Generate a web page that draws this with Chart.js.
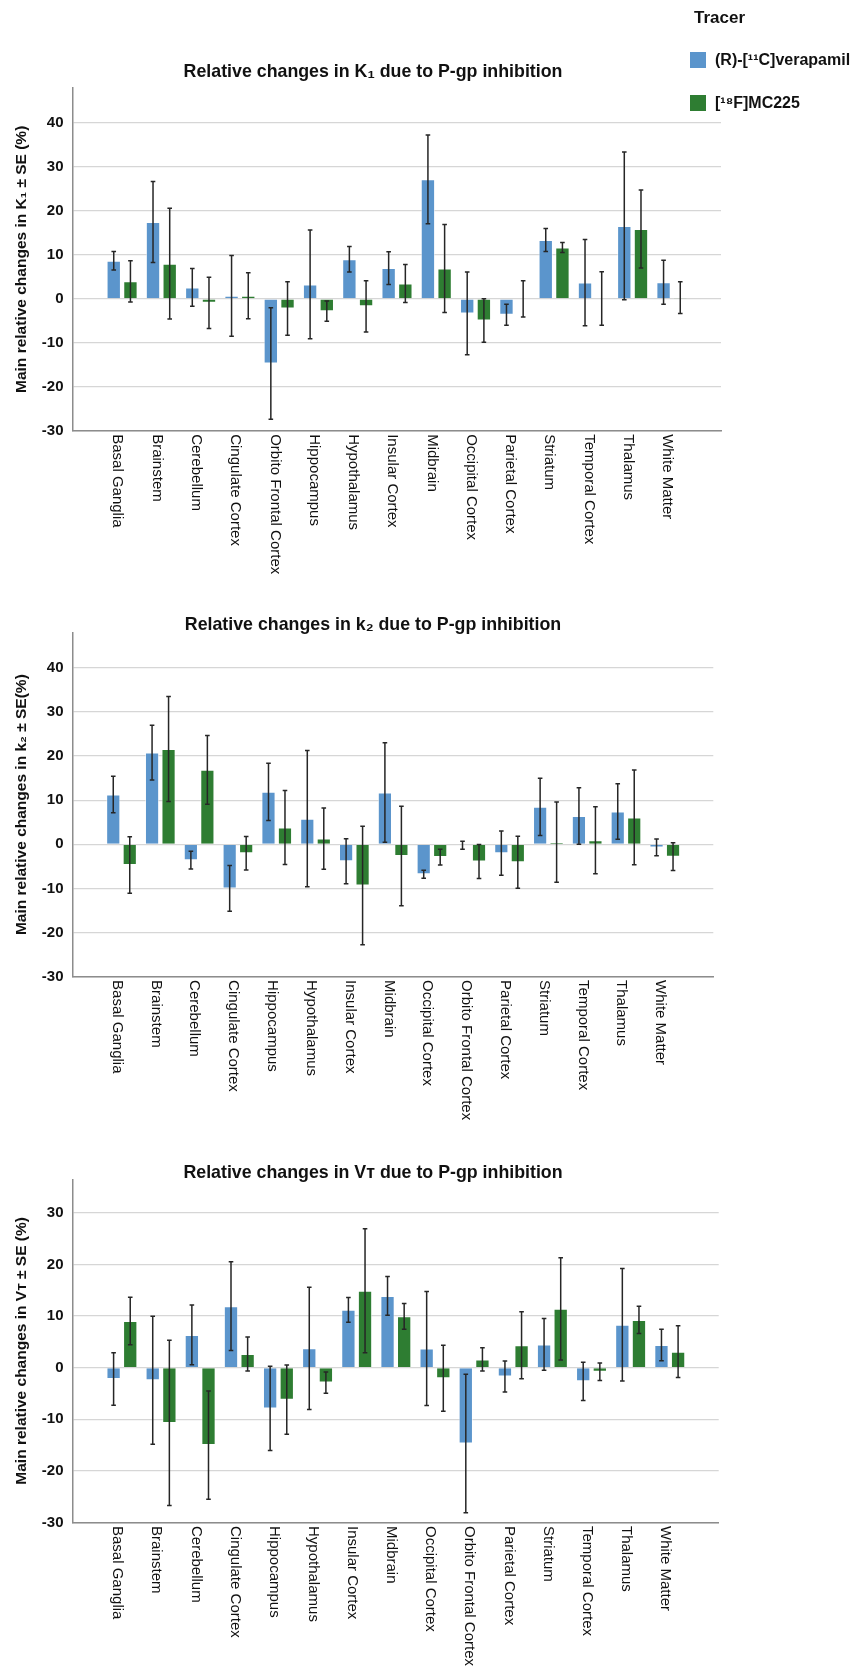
<!DOCTYPE html>
<html>
<head>
<meta charset="utf-8">
<title>Relative changes due to P-gp inhibition</title>
<script src="https://cdn.jsdelivr.net/npm/chart.js@4.4.1/dist/chart.umd.min.js"></script>
<style>
  body { margin: 0; background: #fff; }
  #page { position: relative; width: 862px; height: 1671px; overflow: hidden; background: #fff; }
  #page canvas { position: absolute; left: 0; }
  #legend { position: absolute; left: 690px; top: 0; width: 172px; height: 120px;
            font-family: 'Liberation Sans', Arial, sans-serif; font-weight: bold; color: #111; }
  #legend .head { position: absolute; left: 4px; top: 7px; font-size: 17px; line-height: 22px; }
  #legend .item { position: absolute; left: 0; height: 20px; display: flex; align-items: center;
                  white-space: nowrap; font-size: 16px; }
  #legend .swatch { width: 16px; height: 16px; margin-right: 9px; }
</style>
</head>
<body>
<div id="page">
  <canvas id="chartK1" width="862" height="600" style="top:0px"></canvas>
  <canvas id="chartK2" width="862" height="560" style="top:600px"></canvas>
  <canvas id="chartVT" width="862" height="511" style="top:1160px"></canvas>
  <div id="legend"><div class="head">Tracer</div></div>
</div>
<script>
// categories
const regionsK1 = ['Basal Ganglia', 'Brainstem', 'Cerebellum', 'Cingulate Cortex', 'Orbito Frontal Cortex',
  'Hippocampus', 'Hypothalamus', 'Insular Cortex', 'Midbrain', 'Occipital Cortex', 'Parietal Cortex',
  'Striatum', 'Temporal Cortex', 'Thalamus', 'White Matter'];
const regionsK2 = ['Basal Ganglia', 'Brainstem', 'Cerebellum', 'Cingulate Cortex', 'Hippocampus',
  'Hypothalamus', 'Insular Cortex', 'Midbrain', 'Occipital Cortex', 'Orbito Frontal Cortex',
  'Parietal Cortex', 'Striatum', 'Temporal Cortex', 'Thalamus', 'White Matter'];
const regionsVT = regionsK2;

const tracers = ['(R)-[¹¹C]verapamil', '[¹⁸F]MC225'];

// K1 (%), mean and SE
const k1Verapamil   = [8.7, 17.5, 2.6, 0.7, -14.7, 3.3, 9.0, 7.0, 27.2, -3.3, -3.6, 13.4, 3.7, 16.6, 3.8];
const k1VerapamilSE = [2.1, 9.2, 4.3, 9.2, 12.7, 12.4, 2.9, 3.7, 10.1, 9.4, 2.4, 2.6, 9.8, 16.8, 5.0];
const k1MC225       = [4.0, 8.0, -0.9, 0.7, -2.2, -2.8, -1.7, 3.5, 6.9, -4.9, 0.0, 11.7, 0.1, 15.9, 0.3];
const k1MC225SE     = [4.7, 12.6, 5.85, 5.25, 6.1, 2.3, 5.85, 4.3, 10.0, 4.95, 4.1, 1.15, 6.1, 8.85, 3.6];

// k2 (%)
const k2Verapamil   = [11.3, 20.8, -3.6, -10.0, 11.9, 5.8, -3.85, 11.75, -6.8, -0.2, -2.0, 8.5, 6.4, 7.45, -0.7];
const k2VerapamilSE = [4.15, 6.2, 2.0, 5.2, 6.5, 15.45, 5.1, 11.3, 0.9, 0.9, 5.0, 6.5, 6.4, 6.3, 1.9];
const k2MC225       = [-4.7, 21.6, 16.9, -2.0, 3.8, 1.3, -9.35, -2.65, -2.9, -3.9, -4.05, 0.5, 0.9, 6.1, -2.8];
const k2MC225SE     = [6.4, 11.9, 7.8, 3.8, 8.4, 6.95, 13.45, 11.3, 1.8, 3.85, 5.9, 9.1, 7.6, 10.75, 3.15];

// VT (%)
const vtVerapamil   = [-2.2, -2.45, 6.35, 11.9, -7.9, 3.75, 11.2, 13.9, 3.7, -14.7, -1.7, 4.5, -2.65, 8.3, 4.4];
const vtVerapamilSE = [5.1, 12.4, 5.8, 8.6, 8.15, 11.85, 2.4, 3.75, 11.05, 13.4, 3.0, 5.0, 3.7, 10.9, 3.05];
const vtMC225       = [9.05, -10.7, -15.0, 2.65, -6.2, -2.9, 14.9, 9.95, -2.05, 1.6, 4.35, 11.4, -0.8, 9.25, 3.1];
const vtMC225SE     = [4.6, 16.0, 10.5, 3.3, 6.7, 2.05, 12.0, 2.5, 6.4, 2.25, 6.5, 9.9, 1.7, 2.65, 5.0];

const FONT = "'Liberation Sans', Arial, 'DejaVu Sans', sans-serif";
const BLUE = '#5b95cc';
const GREEN = '#2e7d32';
const GRID = '#d6d6d6';
const AXIS = '#8c8c8c';

// error bars from each dataset's "errors" array
const errorBars = {
  id: 'errorBars',
  afterDatasetsDraw(chart) {
    const { ctx, scales: { y } } = chart;
    ctx.save();
    ctx.strokeStyle = '#262626';
    ctx.lineWidth = 1.5;
    chart.data.datasets.forEach((ds, di) => {
      chart.getDatasetMeta(di).data.forEach((bar, i) => {
        const v = ds.data[i].y, se = ds.errors[i];
        const top = y.getPixelForValue(v + se);
        const bot = y.getPixelForValue(v - se);
        ctx.beginPath();
        ctx.moveTo(bar.x, top); ctx.lineTo(bar.x, bot);
        ctx.moveTo(bar.x - 2.3, top); ctx.lineTo(bar.x + 2.3, top);
        ctx.moveTo(bar.x - 2.3, bot); ctx.lineTo(bar.x + 2.3, bot);
        ctx.stroke();
      });
    });
    ctx.restore();
  }
};

// region names written downwards under the axis
const verticalLabels = {
  id: 'verticalLabels',
  afterDraw(chart) {
    const { ctx, chartArea, scales: { x } } = chart;
    ctx.save();
    ctx.font = '15px ' + FONT;
    ctx.fillStyle = '#111';
    ctx.textAlign = 'left';
    ctx.textBaseline = 'middle';
    chart.data.labels.forEach((name, i) => {
      ctx.save();
      ctx.translate(x.getPixelForValue(i) - 4.5, chartArea.bottom + 3.5);
      ctx.rotate(Math.PI / 2);
      ctx.fillText(name, 0, 0);
      ctx.restore();
    });
    ctx.restore();
  }
};

function barSet(label, values, errors, color) {
  return {
    label: label,
    data: values.map((v, i) => ({ x: i, y: v })),
    errors: errors,
    backgroundColor: color,
    borderColor: 'rgba(255, 255, 255, 0.55)',
    borderWidth: 1,
    categoryPercentage: 0.85,
    barPercentage: 0.86
  };
}

function makeChart(id, c) {
  return new Chart(document.getElementById(id), {
    type: 'bar',
    data: {
      labels: c.labels,
      datasets: [
        barSet(tracers[0], c.blue, c.blueSE, BLUE),
        barSet(tracers[1], c.green, c.greenSE, GREEN)
      ]
    },
    options: {
      responsive: false,
      animation: false,
      layout: { padding: { top: c.padTop, right: 116, left: 0, bottom: 0 } },
      plugins: {
        legend: { display: false },
        tooltip: { enabled: false },
        title: {
          display: true,
          text: c.title,
          color: '#111',
          font: { family: FONT, size: 17.8, weight: 'bold' },
          padding: { top: 0, bottom: c.titleGap }
        }
      },
      scales: {
        x: {
          type: 'linear',
          offset: false,
          min: -1.25,
          max: 15.25,
          ticks: { display: false, stepSize: 1, maxTicksLimit: 20 },
          grid: { display: false },
          border: { color: AXIS, width: 1.5 },
          afterFit: s => { s.height = c.xHeight; s.paddingRight = c.plotRight; }
        },
        y: {
          min: -30,
          max: c.yMax,
          ticks: {
            stepSize: 10,
            includeBounds: false,
            padding: 9.5,
            color: '#111',
            font: { family: FONT, size: 15, weight: 'bold' }
          },
          grid: { color: GRID, lineWidth: 1.3, drawTicks: false },
          border: { color: AXIS, width: 1.5 },
          title: {
            display: true,
            text: c.yTitle,
            color: '#111',
            font: { family: FONT, size: 15.5, weight: 'bold' },
            padding: { top: 12.4, bottom: 0 }
          },
          afterFit: s => { s.width = 73; }
        }
      }
    },
    plugins: [errorBars, verticalLabels]
  });
}

// title line box is 17.8 * 1.2 = 21.36px, so padTop / titleGap keep the title centres where they were
const chartK1 = makeChart('chartK1', {
  labels: regionsK1, blue: k1Verapamil, blueSE: k1VerapamilSE, green: k1MC225, greenSE: k1MC225SE,
  title: 'Relative changes in K₁ due to P-gp inhibition',
  yTitle: 'Main relative changes in K₁ ± SE (%)',
  yMax: 48, padTop: 61.0, titleGap: 5.6, xHeight: 169.3, plotRight: 141
});

makeChart('chartK2', {
  labels: regionsK2, blue: k2Verapamil, blueSE: k2VerapamilSE, green: k2MC225, greenSE: k2MC225SE,
  title: 'Relative changes in k₂ due to P-gp inhibition',
  yTitle: 'Main relative changes in k₂ ± SE(%)',
  yMax: 48, padTop: 14.3, titleGap: -3.0, xHeight: 183.4, plotRight: 148.7
});

makeChart('chartVT', {
  labels: regionsVT, blue: vtVerapamil, blueSE: vtVerapamilSE, green: vtMC225, greenSE: vtMC225SE,
  title: 'Relative changes in Vᴛ due to P-gp inhibition',
  yTitle: 'Main relative changes in Vᴛ ± SE (%)',
  yMax: 36.5, padTop: 2.3, titleGap: -4.4, xHeight: 148.5, plotRight: 143.3
});

// legend built from the first chart's datasets
const legend = document.getElementById('legend');
chartK1.data.datasets.forEach((ds, i) => {
  const item = document.createElement('div');
  item.className = 'item';
  item.style.top = (50 + i * 43) + 'px';
  const sw = document.createElement('span');
  sw.className = 'swatch';
  sw.style.background = ds.backgroundColor;
  const txt = document.createElement('span');
  txt.textContent = ds.label;
  item.appendChild(sw);
  item.appendChild(txt);
  legend.appendChild(item);
});
</script>
</body>
</html>
